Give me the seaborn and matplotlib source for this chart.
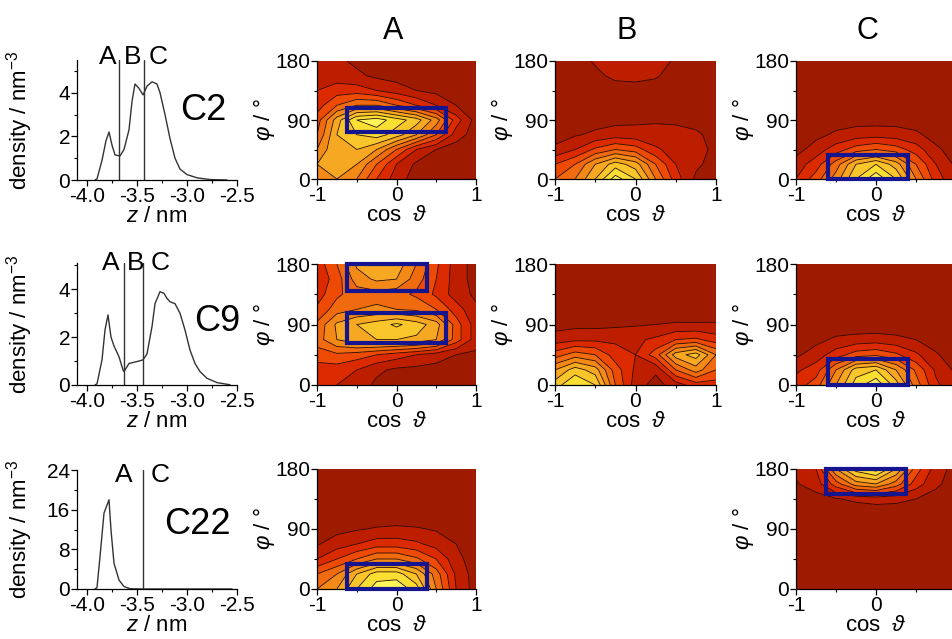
import numpy as np
import pandas as pd
import matplotlib
matplotlib.use("Agg")
import matplotlib.pyplot as plt
from matplotlib.patches import Rectangle
from matplotlib.ticker import MultipleLocator, FormatStrFormatter
import seaborn as sns

# ---------------------------------------------------------------- data
# density profiles along z (nm) for the three chain positions
z_c2 = [-3.92, -3.90, -3.85, -3.81, -3.78, -3.75, -3.72, -3.67, -3.63, -3.58, -3.55,
        -3.52, -3.48, -3.44, -3.40, -3.35, -3.30, -3.27, -3.22, -3.17, -3.12, -3.07,
        -3.00, -2.90, -2.77, -2.60]
rho_c2 = [0.0, 0.05, 0.9, 1.8, 2.2, 1.6, 1.15, 1.1, 1.4, 2.3, 3.6,
          4.4, 4.2, 3.9, 4.3, 4.5, 4.4, 4.0, 3.0, 1.9, 1.0, 0.5,
          0.25, 0.1, 0.02, 0.0]

z_c9 = [-3.92, -3.90, -3.85, -3.82, -3.79, -3.76, -3.73, -3.68, -3.64, -3.63, -3.58,
        -3.50, -3.44, -3.40, -3.35, -3.32, -3.27, -3.23, -3.20, -3.17, -3.12, -3.07,
        -3.02, -2.97, -2.92, -2.87, -2.80, -2.70, -2.57]
rho_c9 = [0.0, 0.05, 1.05, 2.3, 2.93, 2.0, 1.63, 1.18, 0.63, 0.56, 0.9,
          0.98, 1.05, 1.3, 2.44, 3.4, 3.9, 3.83, 3.62, 3.48, 3.4, 3.0,
          2.3, 1.46, 0.9, 0.56, 0.28, 0.1, 0.01]

z_c22 = [-3.92, -3.90, -3.87, -3.83, -3.78, -3.76, -3.73, -3.68, -3.63, -3.57, -3.45, -3.00, -2.55]
rho_c22 = [0.0, 0.3, 6.5, 15.3, 18.0, 11.9, 5.2, 1.8, 0.5, 0.05, 0.0, 0.0, 0.0]

# region boundaries (nm) and region letters
bounds_c2 = [-3.683, -3.433]
bounds_c9 = [-3.633, -3.44]
bounds_c22 = [-3.44]
letters_c2 = [("A", -3.797), ("B", -3.547), ("C", -3.287)]
letters_c9 = [("A", -3.767), ("B", -3.517), ("C", -3.267)]
letters_c22 = [("A", -3.633), ("C", -3.267)]

# orientation distributions on a (phi, cos theta) grid, rows phi = 0 .. 180
cos_grid = [-1.0, -0.75, -0.5, -0.25, 0.0, 0.25, 0.5, 0.75, 1.0]
phi_grid = [0.0, 22.5, 45.0, 67.5, 90.0, 112.5, 135.0, 157.5, 180.0]

c2_A = [[6.0, 6.0, 5.0, 3.0, 1.5, 0.5, 0.3, 0.3, 0.3],
        [6.0, 6.5, 6.0, 4.0, 2.0, 0.8, 0.4, 0.3, 0.3],
        [5.0, 7.0, 7.0, 6.0, 4.0, 2.0, 1.0, 0.5, 0.3],
        [4.0, 7.0, 8.0, 8.5, 7.5, 6.0, 4.0, 1.5, 0.5],
        [3.5, 6.5, 9.0, 9.5, 8.5, 7.5, 5.5, 2.5, 0.6],
        [2.5, 4.0, 5.0, 5.0, 4.0, 3.0, 2.0, 1.0, 0.5],
        [2.0, 2.5, 2.5, 2.0, 1.5, 1.0, 0.7, 0.5, 0.4],
        [1.5, 1.5, 1.2, 0.8, 0.6, 0.5, 0.4, 0.4, 0.4],
        [1.2, 1.2, 0.8, 0.6, 0.5, 0.5, 0.4, 0.4, 0.4]]

c2_B = [[4.0, 5.0, 7.0, 9.5, 8.0, 5.0, 2.5, 0.8, 0.5],
        [3.0, 4.0, 6.0, 7.5, 6.5, 4.0, 2.0, 1.2, 0.6],
        [1.2, 2.0, 3.2, 4.0, 3.5, 2.2, 1.5, 1.3, 0.8],
        [0.6, 0.9, 1.2, 1.5, 1.4, 1.3, 1.2, 1.1, 0.8],
        [0.4, 0.5, 0.6, 0.7, 0.8, 0.9, 0.9, 0.8, 0.6],
        [0.4, 0.4, 0.5, 0.5, 0.5, 0.5, 0.5, 0.5, 0.4],
        [0.4, 0.4, 0.5, 0.6, 0.6, 0.6, 0.5, 0.4, 0.4],
        [0.4, 0.5, 0.8, 1.2, 1.3, 1.1, 0.6, 0.4, 0.4],
        [0.4, 0.6, 1.1, 1.4, 1.5, 1.3, 0.9, 0.4, 0.4]]

c2_C = [[2.0, 3.5, 5.5, 8.0, 9.8, 8.0, 5.0, 2.5, 1.2],
        [1.5, 2.5, 4.5, 7.0, 8.0, 6.5, 4.0, 2.0, 0.8],
        [0.6, 1.5, 2.5, 3.5, 4.0, 3.5, 2.5, 1.2, 0.5],
        [0.4, 0.7, 1.2, 1.5, 1.6, 1.5, 1.2, 0.6, 0.4],
        [0.3, 0.4, 0.5, 0.6, 0.6, 0.6, 0.5, 0.4, 0.3],
        [0.3, 0.3, 0.3, 0.3, 0.3, 0.3, 0.3, 0.3, 0.3],
        [0.3, 0.3, 0.3, 0.3, 0.3, 0.3, 0.3, 0.3, 0.3],
        [0.3, 0.3, 0.3, 0.3, 0.3, 0.3, 0.3, 0.3, 0.3],
        [0.3, 0.3, 0.3, 0.3, 0.3, 0.3, 0.3, 0.3, 0.3]]

c9_A = [[2.2, 2.0, 1.5, 0.8, 0.6, 0.6, 0.5, 0.5, 0.5],
        [2.5, 2.5, 2.0, 1.2, 0.8, 0.7, 0.6, 0.6, 0.6],
        [3.5, 3.8, 3.5, 3.0, 2.5, 2.0, 1.5, 1.0, 0.8],
        [4.5, 6.0, 6.8, 7.0, 7.0, 6.8, 6.0, 3.5, 1.5],
        [4.2, 6.2, 7.0, 7.5, 8.2, 7.5, 6.5, 3.5, 1.5],
        [3.2, 4.5, 5.0, 5.2, 5.0, 4.8, 4.0, 2.5, 1.2],
        [2.5, 3.8, 4.5, 4.6, 4.4, 3.8, 2.8, 1.5, 0.8],
        [2.2, 3.5, 5.5, 6.2, 6.0, 4.5, 3.0, 1.5, 0.6],
        [2.4, 4.0, 6.2, 7.0, 6.6, 5.0, 3.2, 1.5, 0.6]]

c9_B = [[7.5, 9.0, 8.0, 4.0, 1.5, 0.6, 1.5, 2.5, 2.5],
        [6.0, 7.5, 6.5, 3.5, 1.8, 1.2, 4.0, 5.5, 4.0],
        [3.5, 4.5, 4.0, 2.5, 2.0, 3.5, 6.5, 7.5, 5.0],
        [1.5, 1.8, 1.8, 1.8, 1.8, 2.2, 3.0, 3.2, 2.5],
        [0.6, 0.7, 0.7, 0.8, 0.9, 1.0, 1.1, 1.1, 1.1],
        [0.4, 0.4, 0.4, 0.4, 0.4, 0.4, 0.4, 0.4, 0.4],
        [0.4, 0.4, 0.4, 0.4, 0.4, 0.4, 0.4, 0.4, 0.4],
        [0.4, 0.4, 0.4, 0.4, 0.4, 0.4, 0.4, 0.4, 0.4],
        [0.4, 0.4, 0.4, 0.4, 0.4, 0.4, 0.4, 0.4, 0.4]]

c9_C = [[2.5, 3.5, 6.0, 8.5, 9.8, 7.5, 4.5, 2.2, 1.2],
        [1.8, 2.5, 5.0, 7.5, 8.0, 6.0, 3.8, 1.8, 0.8],
        [0.8, 1.5, 2.5, 3.5, 3.8, 3.2, 2.2, 1.1, 0.5],
        [0.4, 0.7, 1.2, 1.4, 1.5, 1.3, 1.0, 0.6, 0.4],
        [0.3, 0.3, 0.3, 0.3, 0.3, 0.3, 0.3, 0.3, 0.3],
        [0.3, 0.3, 0.3, 0.3, 0.3, 0.3, 0.3, 0.3, 0.3],
        [0.3, 0.3, 0.3, 0.3, 0.3, 0.3, 0.3, 0.3, 0.3],
        [0.3, 0.3, 0.3, 0.3, 0.3, 0.3, 0.3, 0.3, 0.3],
        [0.3, 0.3, 0.3, 0.3, 0.3, 0.3, 0.3, 0.3, 0.3]]

c22_A = [[5.0, 6.0, 8.0, 9.5, 9.8, 8.5, 5.0, 2.0, 0.5],
         [4.0, 5.0, 7.0, 8.5, 8.5, 7.0, 4.5, 1.8, 0.5],
         [2.0, 3.0, 4.0, 5.0, 5.0, 4.2, 3.0, 1.3, 0.5],
         [0.9, 1.5, 2.0, 2.5, 2.5, 2.2, 1.6, 1.0, 0.4],
         [0.4, 0.7, 0.9, 1.1, 1.2, 1.1, 0.9, 0.6, 0.3],
         [0.3, 0.3, 0.3, 0.3, 0.3, 0.3, 0.3, 0.3, 0.3],
         [0.3, 0.3, 0.3, 0.3, 0.3, 0.3, 0.3, 0.3, 0.3],
         [0.3, 0.3, 0.3, 0.3, 0.3, 0.3, 0.3, 0.3, 0.3],
         [0.3, 0.3, 0.3, 0.3, 0.3, 0.3, 0.3, 0.3, 0.3]]

c22_C = [[0.3, 0.3, 0.3, 0.3, 0.3, 0.3, 0.3, 0.3, 0.3],
         [0.3, 0.3, 0.3, 0.3, 0.3, 0.3, 0.3, 0.3, 0.3],
         [0.3, 0.3, 0.3, 0.3, 0.3, 0.3, 0.3, 0.3, 0.3],
         [0.3, 0.3, 0.3, 0.3, 0.3, 0.3, 0.3, 0.3, 0.3],
         [0.3, 0.3, 0.3, 0.3, 0.3, 0.3, 0.3, 0.3, 0.3],
         [0.3, 0.3, 0.3, 0.3, 0.3, 0.3, 0.3, 0.3, 0.3],
         [0.4, 0.6, 0.9, 1.2, 1.4, 1.3, 1.0, 0.6, 0.4],
         [0.9, 1.5, 3.5, 5.5, 6.0, 4.5, 2.5, 1.2, 0.5],
         [1.2, 2.0, 6.0, 8.5, 9.5, 7.0, 3.5, 1.5, 0.6]]

# highlighted windows: (cos_min, cos_max, phi_min, phi_max)
boxes_c2_A = [(-0.62, 0.62, 72, 108)]
boxes_c2_C = [(-0.60, 0.40, 0, 37)]
boxes_c9_A = [(-0.62, 0.38, 140, 180), (-0.62, 0.62, 63, 107)]
boxes_c9_C = [(-0.60, 0.40, 0, 39)]
boxes_c22_A = [(-0.62, 0.38, 0, 38)]
boxes_c22_C = [(-0.63, 0.37, 142, 180)]

# ---------------------------------------------------------------- style
sns.set_style("ticks")
plt.rcParams["font.family"] = ["Liberation Sans", "DejaVu Sans"]
plt.rcParams["mathtext.fontset"] = "custom"
plt.rcParams["mathtext.rm"] = "Liberation Sans"
plt.rcParams["mathtext.it"] = "Liberation Sans:italic"
plt.rcParams["mathtext.fallback"] = "cm"
plt.rcParams["axes.unicode_minus"] = False
for key in ("axes.edgecolor", "xtick.color", "ytick.color", "text.color", "axes.labelcolor"):
    plt.rcParams[key] = "black"

levels = np.arange(0, 11)
palette = ["#9e1a00", "#bd1e00", "#dc2a00", "#ec4a05", "#f06a10",
           "#f38a18", "#f6a822", "#f8c62a", "#fadf32", "#fdf65a"]
box_color = "#15158f"
TICK = 15
LABEL = 16

W, H = 952, 639
fig = plt.figure(figsize=(W / 100, H / 100), dpi=100)
fig.patch.set_facecolor("white")


def add_px_axes(left, top, right, bottom):
    return fig.add_axes([left / W, 1 - bottom / H, (right - left) / W, (bottom - top) / H])


def style_ticks(ax):
    ax.tick_params(which="major", direction="out", length=4, width=0.9, labelsize=TICK, pad=1)
    ax.tick_params(which="minor", direction="out", length=2, width=0.8)
    for s in ("left", "bottom"):
        ax.spines[s].set_linewidth(0.9)
    sns.despine(ax=ax)


def density_panel(ax, z, rho, ymax, ystep, ymin_step, bounds, letters, letter_y, name, name_xy):
    df = pd.DataFrame({"z": z, "rho": rho})
    sns.lineplot(data=df, x="z", y="rho", ax=ax, color="#333333", lw=1.0, sort=False)
    for b in bounds:
        ax.axvline(b, ymin=0, ymax=1, color="#333333", lw=1.0)
    for txt, xz in letters:
        ax.text(xz, letter_y, txt, transform=ax.get_xaxis_transform(), ha="center",
                va="center", fontsize=19, clip_on=False)
    ax.text(name_xy[0], name_xy[1], name, transform=ax.transAxes, ha="center",
            va="center", fontsize=26, clip_on=False)
    ax.set_xlim(-4.1, -2.5)
    ax.set_ylim(0, ymax)
    ax.xaxis.set_major_locator(MultipleLocator(0.5))
    ax.xaxis.set_minor_locator(MultipleLocator(0.25))
    ax.xaxis.set_major_formatter(FormatStrFormatter("%.1f"))
    ax.yaxis.set_major_locator(MultipleLocator(ystep))
    ax.yaxis.set_minor_locator(MultipleLocator(ymin_step))
    ax.set_xlabel("$z$ / nm", fontsize=LABEL, labelpad=0)
    ax.set_ylabel("density / nm$^{-3}$", fontsize=LABEL)
    ax.yaxis.set_label_coords(-0.26, 0.5)
    style_ticks(ax)


def orient_panel(ax, Z, boxes):
    Z = np.asarray(Z)
    ax.contourf(cos_grid, phi_grid, Z, levels=levels, colors=palette)
    ax.contour(cos_grid, phi_grid, Z, levels=levels[1:], colors="#2b0a00", linewidths=0.6)
    for c0, c1, p0, p1 in boxes:
        ax.add_patch(Rectangle((c0, p0), c1 - c0, p1 - p0, fill=False, ec=box_color,
                               lw=3.0, clip_on=False, zorder=5))
    ax.set_xlim(-1, 1)
    ax.set_ylim(0, 180)
    ax.set_xticks([-1, 0, 1])
    ax.set_yticks([0, 90, 180])
    ax.xaxis.set_minor_locator(MultipleLocator(0.5))
    ax.yaxis.set_minor_locator(MultipleLocator(45))
    ax.set_xlabel("cos  $\\vartheta$", fontsize=LABEL, labelpad=0)
    ax.set_ylabel("$\\varphi$ / °", fontsize=LABEL)
    ax.yaxis.set_label_coords(-0.25, 0.5)
    style_ticks(ax)


# ---------------------------------------------------------------- layout (pixels)
dens_x = (77, 237)
dens_rows = [(60, 180), (263, 385), (470, 589)]
cont_cols = [(317, 476), (555, 716), (796, 956)]
cont_rows = [(61, 179), (264, 385), (469, 589)]

# row 1: C2
ax = add_px_axes(dens_x[0], dens_rows[0][0], dens_x[1], dens_rows[0][1])
density_panel(ax, z_c2, rho_c2, 5.5, 2, 1, bounds_c2, letters_c2, 1.025, "C2", (0.79, 0.58))
for col, (Z, boxes) in enumerate([(c2_A, boxes_c2_A), (c2_B, []), (c2_C, boxes_c2_C)]):
    ax = add_px_axes(cont_cols[col][0], cont_rows[0][0], cont_cols[col][1], cont_rows[0][1])
    orient_panel(ax, Z, boxes)

# row 2: C9
ax = add_px_axes(dens_x[0], dens_rows[1][0], dens_x[1], dens_rows[1][1])
density_panel(ax, z_c9, rho_c9, 5.1, 2, 1, bounds_c9, letters_c9, 1.0, "C9", (0.875, 0.52))
for col, (Z, boxes) in enumerate([(c9_A, boxes_c9_A), (c9_B, []), (c9_C, boxes_c9_C)]):
    ax = add_px_axes(cont_cols[col][0], cont_rows[1][0], cont_cols[col][1], cont_rows[1][1])
    orient_panel(ax, Z, boxes)

# row 3: C22 (no B region)
ax = add_px_axes(dens_x[0], dens_rows[2][0], dens_x[1], dens_rows[2][1])
density_panel(ax, z_c22, rho_c22, 24, 8, 4, bounds_c22, letters_c22, 0.958, "C22", (0.75, 0.54))
for col, (Z, boxes) in [(0, (c22_A, boxes_c22_A)), (2, (c22_C, boxes_c22_C))]:
    ax = add_px_axes(cont_cols[col][0], cont_rows[2][0], cont_cols[col][1], cont_rows[2][1])
    orient_panel(ax, Z, boxes)

# column headings
for txt, xpx in [("A", 393), ("B", 627), ("C", 867)]:
    fig.text(xpx / W, 1 - 31 / H, txt, ha="center", va="center", fontsize=22)

fig.savefig("out.png", dpi=100)
